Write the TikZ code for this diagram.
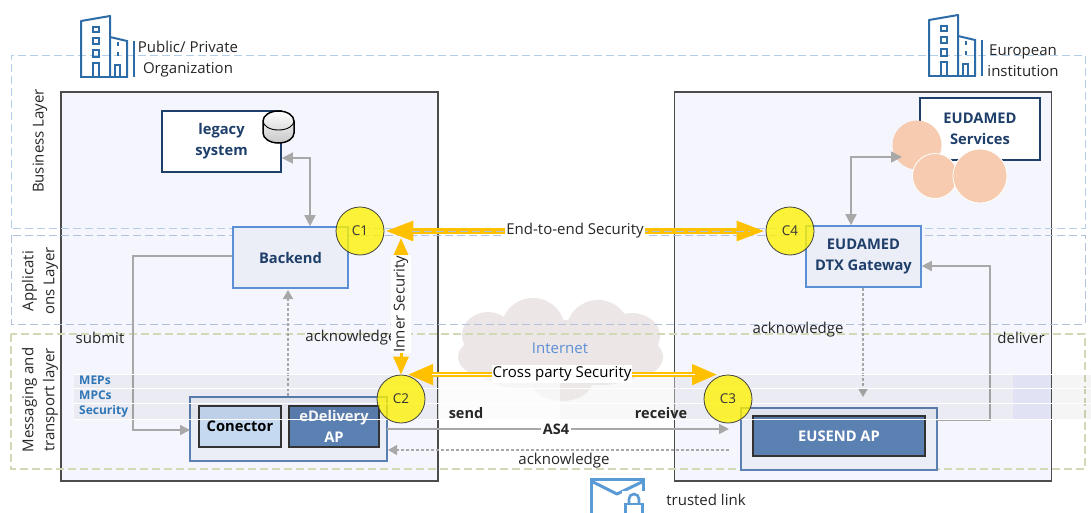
\documentclass[tikz,border=0pt]{standalone}
\usepackage{fontspec}
\setmainfont{Open Sans}
\usetikzlibrary{arrows.meta,calc}
\definecolor{navy}{HTML}{1F3F6B}
\definecolor{panel}{HTML}{F5F6FD}
\definecolor{midblue}{HTML}{5B8FD6}
\definecolor{softfill}{HTML}{ECEEF7}
\definecolor{apblue}{HTML}{5B80B2}
\definecolor{linkgray}{HTML}{A8A8A8}
\definecolor{amberc}{HTML}{FFC000}
\definecolor{icon}{HTML}{2E6CA8}
\definecolor{labelblue}{HTML}{2E75B6}
\definecolor{cloudc}{HTML}{EDE6E6}
\definecolor{peach}{HTML}{F6CBB0}
\definecolor{envblue}{HTML}{5B9BD5}
\definecolor{conectorc}{HTML}{C5D9F1}
\definecolor{lay1}{HTML}{B4CEEA}
\definecolor{lay2}{HTML}{B2C1DD}
\definecolor{lay3}{HTML}{D2D9B6}
\tikzset{
  txt/.style={font=\fontsize{15}{21}\selectfont,text=black!85,inner sep=0pt,align=center},
  layerline/.style={draw=#1,dash pattern=on 8pt off 4pt,line width=1pt},
  panelbox/.style={draw=black!70,fill=panel,line width=1.2pt,inner sep=0pt,minimum width=377pt,minimum height=389pt},
  sysbox/.style={draw=navy,fill=white,line width=1.8pt,inner sep=0pt,font=\fontsize{14.7}{21}\selectfont\bfseries,text=navy,align=center},
  blockbox/.style={draw=midblue,fill=softfill,line width=1.6pt,inner sep=0pt,font=\fontsize{14.7}{21}\selectfont\bfseries,text=navy,align=center},
  outerbox/.style={draw=apblue,fill=softfill,line width=1.6pt,inner sep=0pt},
  innerbox/.style={draw=black!80,line width=1.1pt,inner sep=0pt,font=\fontsize{14.7}{21}\selectfont\bfseries,align=center},
  cnode/.style={circle,draw=black!75,fill=yellow,fill opacity=.78,text opacity=1,line width=.8pt,minimum size=48pt,inner sep=0pt,font=\fontsize{13.5}{15}\selectfont,text=black!80},
  link/.style={draw=linkgray,line width=1.6pt,-{Triangle[width=10pt,length=10pt]}},
  linkboth/.style={draw=linkgray,line width=1.6pt,{Triangle[width=11pt,length=11pt]}-{Triangle[width=11pt,length=11pt]}},
  linkdash/.style={draw=linkgray,line width=1.6pt,dash pattern=on 3pt off 2pt,-{Triangle[width=10pt,length=9pt]}},
  seclabel/.style={txt,fill=white,inner xsep=1pt,inner ysep=2pt},
  boldlabel/.style={txt,font=\fontsize{14.5}{17}\selectfont\bfseries},
  bandlabel/.style={font=\fontsize{12}{13}\selectfont\bfseries,text=labelblue,inner sep=0pt,anchor=west},
  bldg/.pic={
    \draw[icon,line width=2pt,line join=round] (0,61) -- (0,5) -- (29,0) -- (29,61);
    \draw[icon,line width=2pt] (29,21) -- (46,25) -- (46,61);
    \draw[icon,line width=2pt] (-1,61) -- (47,61);
    \draw[icon,line width=1.8pt] (12,61) -- (12,47) -- (18,47) -- (18,61);
    \draw[icon,line width=1.8pt] (12,11) rectangle (18,16) (12,22) rectangle (18,28) (12,34) rectangle (18,41);
    \draw[icon,line width=1.8pt] (37,26) -- (37,30) (37,36) -- (37,40);
    \draw[icon,line width=1.8pt] (34,61) -- (34,49) -- (39,49) -- (39,61);
    \draw[icon,line width=2pt] (52.5,25) -- (52.5,61);
  }
}
\begin{document}
\begin{tikzpicture}[x=1pt,y=-1pt]
\useasboundingbox (0,0) rectangle (1091,512);
\fill[white] (0,0) rectangle (1091,512);

% panels
\node[panelbox] (leftpanel) at (249.5,286.5) {};
\node[panelbox] (rightpanel) at (863,286.5) {};

% cloud
\fill[cloudc] (562,350) ellipse (85 and 30)
  (533,330) circle (32) (598,332) circle (32)
  (488,335) ellipse (26 and 23) (632,336) ellipse (28 and 23)
  (488,357) ellipse (30 and 20) (635,357) ellipse (28 and 20)
  (520,368) ellipse (42 and 20) (600,366) ellipse (44 and 19) (562,382) ellipse (30 and 19);

% layers
\draw[layerline=lay1] (11,228) -- (11,55) -- (1085,55) -- (1085,228) -- cycle;
\draw[layerline=lay2] (11,235) -- (11,324) -- (1085,324) -- (1085,235) -- cycle;
\draw[layerline=lay3,line width=1.2pt] (11,334) -- (11,469) -- (1085,469) -- (1085,334) -- cycle;

% business nodes
\node[sysbox,minimum width=119pt,minimum height=61pt] (legacy) at (221.5,141.5) {legacy\\system};
\draw[black,line width=1.5pt,top color=white,bottom color=black!22] (263,121) -- (263,133) arc[start angle=180,end angle=360,x radius=15.5,y radius=-10] -- (294,121) arc[start angle=0,end angle=180,x radius=15.5,y radius=-10];
\draw[black,line width=.9pt] (263,121) arc[start angle=180,end angle=360,x radius=15.5,y radius=-9];
\node[sysbox,minimum width=120pt,minimum height=62pt] (services) at (980,129) {EUDAMED\\Services};
\fill[peach] (917,145) circle (24.5);
\fill[peach,draw=white,line width=.8pt] (935,176) circle (22.5);
\fill[peach,draw=white,line width=.8pt] (980,176) circle (27);

\node[blockbox,minimum width=115pt,minimum height=61pt] (backend) at (290.5,257.5) {Backend};
\node[blockbox,minimum width=115pt,minimum height=61pt] (gateway) at (863.5,256.5) {EUDAMED\\DTX Gateway};

% AP groups
\node[outerbox,minimum width=197pt,minimum height=64pt] (leftap) at (288.5,429) {};
\node[innerbox,fill=conectorc,minimum width=82pt,minimum height=41pt] (conector) at (240,426.5) {Conector};
\node[innerbox,fill=apblue,text=white,minimum width=90pt,minimum height=41pt] (edelivery) at (334,426.5) {eDelivery\\AP};
\node[outerbox,minimum width=196pt,minimum height=62pt] (rightap) at (839,439) {};
\node[innerbox,fill=apblue,text=white,minimum width=172pt,minimum height=40pt] (eusend) at (839,436) {EUSEND AP};

% coordinates
\coordinate (legacyturn) at (310,158);
\coordinate (submitturn) at (133,256);
\coordinate (gateturn) at (851,157);
\coordinate (svcend) at (902,157);
\coordinate (delivturn) at (990,266);
\coordinate (acktop) at (288,290);
\coordinate (ackbot) at (863,397);
\coordinate (innertop) at (401,238);
\coordinate (as4start) at (387,429);
\coordinate (as4end) at (729,429);
\coordinate (ackstart) at (729,450);
\coordinate (ackend) at (388,450);
\coordinate (delivstart) at (937,420);
\coordinate (submitend) at (190,430);

% grey connectors
\draw[linkboth] (legacy.east |- legacyturn) -- (legacyturn) -- (legacyturn |- backend.north);
\draw[link] (backend.west |- submitturn) -- (submitturn) -- (submitturn |- submitend) -- (submitend);
\draw[linkdash] (acktop |- leftap.north) -- (acktop);
\draw[linkboth] (gateturn |- gateway.north) -- (gateturn) -- (svcend);
\draw[linkdash] (ackbot |- gateway.south) -- (ackbot);
\draw[link] (delivstart) -- (delivturn |- delivstart) -- (delivturn) -- (gateway.east |- delivturn);
\draw[link] (as4start) -- (as4end);
\draw[linkdash] (ackstart) -- (ackend);

% bands
\fill[black,fill opacity=.04] (74,374) rectangle (1091,419);
\fill[white,fill opacity=.75] (438,374) rectangle (560,419);
\fill[white,fill opacity=.35] (560,374) rectangle (675,419);
\fill[blue!30!white,fill opacity=.16] (1013,374) rectangle (1051,419);
\foreach \yy in {374,388.5,403.5,419} \draw[white,line width=.9pt] (74,\yy) -- (1091,\yy);
\node[bandlabel] (meps) at (79,380.5) {MEPs};
\node[bandlabel] (mpcs) at (79,395.5) {MPCs};
\node[bandlabel] (secur) at (79,411.5) {Security};

% circles
\node[cnode] (c1) at (360,231) {C1};
\node[cnode] (c2) at (401,399) {C2};
\node[cnode] (c3) at (728,399) {C3};
\node[cnode] (c4) at (790,231) {C4};

% security arrows
\draw[amberc,line width=5.5pt,{Triangle[width=19pt,length=28pt]}-{Triangle[width=19pt,length=28pt]},shorten <=1pt,shorten >=1pt] (c1) -- (c4);
\draw[lay2,dash pattern=on 8pt off 4pt,line width=.8pt] (412,231) -- (750,231);
\draw[amberc,line width=3pt,{Triangle[width=15pt,length=18pt]}-{Triangle[width=15pt,length=18pt]}] (innertop) -- (c2.north);
\draw[amberc,line width=4.5pt,{Triangle[width=20pt,length=25pt]}-{Triangle[width=20pt,length=25pt]},shorten <=7pt,shorten >=11pt] (c2.north) -- (c3.north);
\draw[white,line width=1pt] (432,374.7) -- (695,374.7);

% labels
\node[seclabel] (e2e) at (575,231) {End-to-end Security};
\node[txt] (ackl) at (351,338) {acknowledge};
\node[seclabel,rotate=90,inner ysep=3pt] (inner) at (401,304) {Inner Security};
\node[seclabel,text=black] (cross) at (562,374) {Cross party Security};
\node[txt,text=midblue] (inet) at (560,348) {Internet};
\node[txt] (orgl) at (188,59) {Public/ Private\\Organization};
\node[txt] (eul) at (1023,61) {European\\institution};
\node[txt,rotate=90] (bus) at (40,141) {Business Layer};
\node[txt,rotate=90] (appl) at (40,281) {Applicati\\ons Layer};
\node[txt,rotate=90] (mess) at (40,400) {Messaging and\\transport layer};
\node[txt] (subl) at (100,338) {submit};
\node[txt] (ackr) at (798,330) {acknowledge};
\node[txt] (delivl) at (1021,338) {deliver};
\node[boldlabel] (sendl) at (466,413) {send};
\node[boldlabel] (recvl) at (661,413) {receive};
\node[boldlabel,fill=white,inner xsep=2pt] (as4l) at (556,429) {AS4};
\node[txt] (ackb) at (564,461) {acknowledge};
\node[txt] (trusted) at (706,500) {trusted link};

% icons
\pic at (81,16) {bldg};
\pic at (929,15) {bldg};
\begin{scope}
\clip (580,470) rectangle (660,512);
\draw[envblue,line width=3pt] (591.5,479.5) rectangle (643.5,516);
\draw[envblue,line width=3pt,line join=round] (591,481) -- (617,494) -- (644,481);
\fill[white] (622,491) rectangle (648,514);
\draw[envblue,line width=2.6pt] (629,504) -- (629,499) arc[start angle=180,end angle=0,x radius=5,y radius=-5] -- (639,504);
\draw[envblue,line width=2.6pt] (625.5,516) -- (625.5,504) -- (642.5,504) -- (642.5,516);
\end{scope}
\end{tikzpicture}
\end{document}
